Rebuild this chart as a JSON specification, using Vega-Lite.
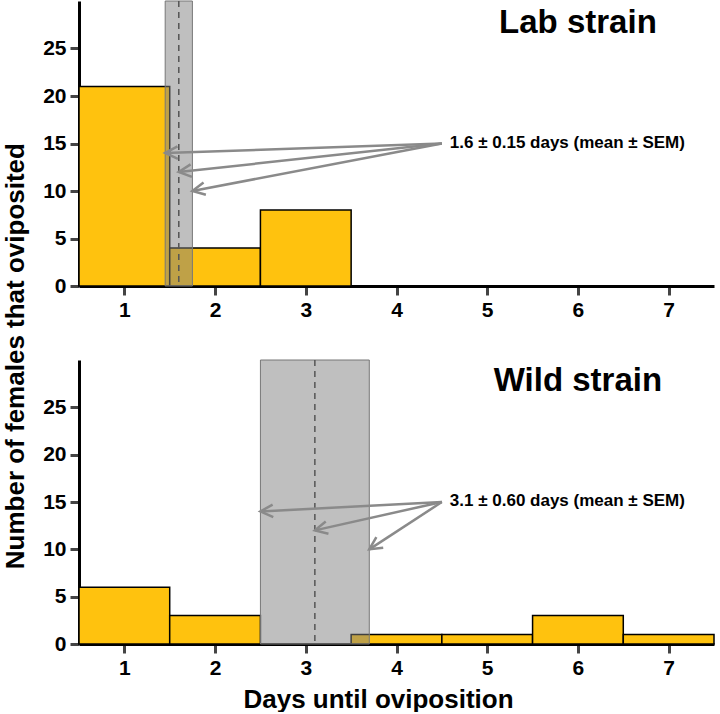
{
  "$schema": "https://vega.github.io/schema/vega-lite/v6.json",
  "background": "white",
  "padding": {"left": 2, "top": 0, "right": 5, "bottom": 0},
  "title": {
    "text": "Number of females that oviposited",
    "orient": "left",
    "anchor": "middle",
    "font": "Liberation Sans",
    "fontSize": 26,
    "fontWeight": "bold",
    "color": "black",
    "offset": 14
  },
  "datasets": {
    "histogram": [
      {"strain": "Lab strain", "binStart": 0.5, "binEnd": 1.5, "females": 21},
      {"strain": "Lab strain", "binStart": 1.5, "binEnd": 2.5, "females": 4},
      {"strain": "Lab strain", "binStart": 2.5, "binEnd": 3.5, "females": 8},
      {"strain": "Wild strain", "binStart": 0.5, "binEnd": 1.5, "females": 6},
      {"strain": "Wild strain", "binStart": 1.5, "binEnd": 2.5, "females": 3},
      {"strain": "Wild strain", "binStart": 3.5, "binEnd": 4.5, "females": 1},
      {"strain": "Wild strain", "binStart": 4.5, "binEnd": 5.5, "females": 1},
      {"strain": "Wild strain", "binStart": 5.5, "binEnd": 6.5, "females": 3},
      {"strain": "Wild strain", "binStart": 6.5, "binEnd": 7.5, "females": 1}
    ],
    "summary": [
      {"strain": "Lab strain", "mean": 1.6, "sem": 0.15, "lo": 1.45, "hi": 1.75, "note": "1.6 ± 0.15 days (mean ± SEM)"},
      {"strain": "Wild strain", "mean": 3.1, "sem": 0.6, "lo": 2.5, "hi": 3.7, "note": "3.1 ± 0.60 days (mean ± SEM)"}
    ],
    "pointers": [
      {"strain": "Lab strain", "tailX": 4.5, "tailY": 15, "tipX": 1.45, "tipY": 14},
      {"strain": "Lab strain", "tailX": 4.5, "tailY": 15, "tipX": 1.6, "tipY": 12},
      {"strain": "Lab strain", "tailX": 4.5, "tailY": 15, "tipX": 1.75, "tipY": 10},
      {"strain": "Wild strain", "tailX": 4.5, "tailY": 15, "tipX": 2.5, "tipY": 14},
      {"strain": "Wild strain", "tailX": 4.5, "tailY": 15, "tipX": 3.1, "tipY": 12},
      {"strain": "Wild strain", "tailX": 4.5, "tailY": 15, "tipX": 3.7, "tipY": 10}
    ]
  },
  "spacing": 39,
  "vconcat": [
    {
      "width": 635,
      "height": 285,
      "layer": [
        {
          "data": {"name": "histogram"},
          "transform": [{"filter": "datum.strain === 'Lab strain'"}],
          "mark": {"type": "rect", "fill": "#FFC20E", "stroke": "black", "strokeWidth": 1.5},
          "encoding": {
            "x": {"field": "binStart", "type": "quantitative", "scale": {"domain": [0.5, 7.5], "nice": false, "zero": false}, "axis": {"values": [1, 2, 3, 4, 5, 6, 7], "format": "d", "title": null}},
            "x2": {"field": "binEnd"},
            "y": {"field": "females", "type": "quantitative", "scale": {"domain": [0, 30], "nice": false}, "axis": {"values": [0, 5, 10, 15, 20, 25], "title": null}},
            "y2": {"datum": 0}
          }
        },
        {
          "data": {"name": "summary"},
          "transform": [{"filter": "datum.strain === 'Lab strain'"}],
          "mark": {"type": "rect", "fill": "#7f7f7f", "fillOpacity": 0.5, "stroke": "#777777", "strokeWidth": 1},
          "encoding": {"x": {"field": "lo", "type": "quantitative"}, "x2": {"field": "hi"}}
        },
        {
          "data": {"name": "summary"},
          "transform": [{"filter": "datum.strain === 'Lab strain'"}],
          "mark": {"type": "rule", "color": "#555555", "strokeDash": [6, 5], "strokeWidth": 1.5},
          "encoding": {"x": {"field": "mean", "type": "quantitative"}}
        },
        {
          "data": {"name": "pointers"},
          "transform": [{"filter": "datum.strain === 'Lab strain'"}],
          "mark": {"type": "rule", "color": "#8a8a8a", "strokeWidth": 2.5},
          "encoding": {
            "x": {"field": "tailX", "type": "quantitative"},
            "y": {"field": "tailY", "type": "quantitative"},
            "x2": {"field": "tipX"},
            "y2": {"field": "tipY"}
          }
        },
        {
          "data": {"name": "pointers"},
          "transform": [
            {"filter": "datum.strain === 'Lab strain'"},
            {"calculate": "atan2(-(datum.tailY - datum.tipY) * 285 / 30, (datum.tailX - datum.tipX) * 635 / 7) * 180 / PI", "as": "headAngle"}
          ],
          "mark": {"type": "point", "shape": "M1.1,-0.55L0,0L1.1,0.55", "filled": false, "color": "#8a8a8a", "strokeWidth": 2.5, "size": 520, "opacity": 1},
          "encoding": {
            "x": {"field": "tipX", "type": "quantitative"},
            "y": {"field": "tipY", "type": "quantitative"},
            "angle": {"field": "headAngle", "type": "quantitative", "scale": null}
          }
        },
        {
          "data": {"name": "summary"},
          "transform": [{"filter": "datum.strain === 'Lab strain'"}],
          "mark": {"type": "text", "align": "left", "baseline": "middle", "dx": 8, "dy": -1, "font": "Liberation Sans", "fontSize": 17, "fontWeight": "bold", "color": "black"},
          "encoding": {"x": {"datum": 4.5, "type": "quantitative"}, "y": {"datum": 15, "type": "quantitative"}, "text": {"field": "note"}}
        },
        {
          "data": {"name": "summary"},
          "transform": [{"filter": "datum.strain === 'Lab strain'"}],
          "mark": {"type": "text", "align": "center", "baseline": "alphabetic", "font": "Liberation Sans", "fontSize": 33, "fontWeight": "bold", "color": "black"},
          "encoding": {"x": {"datum": 6, "type": "quantitative"}, "y": {"datum": 26.6, "type": "quantitative"}, "text": {"field": "strain"}}
        }
      ]
    },
    {
      "width": 635,
      "height": 284,
      "layer": [
        {
          "data": {"name": "histogram"},
          "transform": [{"filter": "datum.strain === 'Wild strain'"}],
          "mark": {"type": "rect", "fill": "#FFC20E", "stroke": "black", "strokeWidth": 1.5},
          "encoding": {
            "x": {"field": "binStart", "type": "quantitative", "scale": {"domain": [0.5, 7.5], "nice": false, "zero": false}, "axis": {"values": [1, 2, 3, 4, 5, 6, 7], "format": "d", "title": "Days until oviposition", "titleX": 299, "titleY": 63, "titleAlign": "center", "titleBaseline": "alphabetic"}},
            "x2": {"field": "binEnd"},
            "y": {"field": "females", "type": "quantitative", "scale": {"domain": [0, 30], "nice": false}, "axis": {"values": [0, 5, 10, 15, 20, 25], "title": null}},
            "y2": {"datum": 0}
          }
        },
        {
          "data": {"name": "summary"},
          "transform": [{"filter": "datum.strain === 'Wild strain'"}],
          "mark": {"type": "rect", "fill": "#7f7f7f", "fillOpacity": 0.5, "stroke": "#777777", "strokeWidth": 1},
          "encoding": {"x": {"field": "lo", "type": "quantitative"}, "x2": {"field": "hi"}}
        },
        {
          "data": {"name": "summary"},
          "transform": [{"filter": "datum.strain === 'Wild strain'"}],
          "mark": {"type": "rule", "color": "#555555", "strokeDash": [6, 5], "strokeWidth": 1.5},
          "encoding": {"x": {"field": "mean", "type": "quantitative"}}
        },
        {
          "data": {"name": "pointers"},
          "transform": [{"filter": "datum.strain === 'Wild strain'"}],
          "mark": {"type": "rule", "color": "#8a8a8a", "strokeWidth": 2.5},
          "encoding": {
            "x": {"field": "tailX", "type": "quantitative"},
            "y": {"field": "tailY", "type": "quantitative"},
            "x2": {"field": "tipX"},
            "y2": {"field": "tipY"}
          }
        },
        {
          "data": {"name": "pointers"},
          "transform": [
            {"filter": "datum.strain === 'Wild strain'"},
            {"calculate": "atan2(-(datum.tailY - datum.tipY) * 284 / 30, (datum.tailX - datum.tipX) * 635 / 7) * 180 / PI", "as": "headAngle"}
          ],
          "mark": {"type": "point", "shape": "M1.1,-0.55L0,0L1.1,0.55", "filled": false, "color": "#8a8a8a", "strokeWidth": 2.5, "size": 520, "opacity": 1},
          "encoding": {
            "x": {"field": "tipX", "type": "quantitative"},
            "y": {"field": "tipY", "type": "quantitative"},
            "angle": {"field": "headAngle", "type": "quantitative", "scale": null}
          }
        },
        {
          "data": {"name": "summary"},
          "transform": [{"filter": "datum.strain === 'Wild strain'"}],
          "mark": {"type": "text", "align": "left", "baseline": "middle", "dx": 8, "dy": -1, "font": "Liberation Sans", "fontSize": 17, "fontWeight": "bold", "color": "black"},
          "encoding": {"x": {"datum": 4.5, "type": "quantitative"}, "y": {"datum": 15, "type": "quantitative"}, "text": {"field": "note"}}
        },
        {
          "data": {"name": "summary"},
          "transform": [{"filter": "datum.strain === 'Wild strain'"}],
          "mark": {"type": "text", "align": "center", "baseline": "alphabetic", "font": "Liberation Sans", "fontSize": 33, "fontWeight": "bold", "color": "black"},
          "encoding": {"x": {"datum": 6, "type": "quantitative"}, "y": {"datum": 26.7, "type": "quantitative"}, "text": {"field": "strain"}}
        }
      ]
    }
  ],
  "config": {
    "view": {"stroke": null},
    "font": "Liberation Sans",
    "axis": {
      "grid": false,
      "labelFont": "Liberation Sans",
      "labelFontSize": 21,
      "labelFontWeight": "bold",
      "labelColor": "black",
      "labelPadding": 4,
      "labelFlush": false,
      "labelOverlap": false,
      "domainColor": "black",
      "domainWidth": 3,
      "tickColor": "#444444",
      "tickWidth": 3,
      "tickSize": 9,
      "titleFont": "Liberation Sans",
      "titleFontSize": 26,
      "titleFontWeight": "bold",
      "titleColor": "black"
    }
  }
}
